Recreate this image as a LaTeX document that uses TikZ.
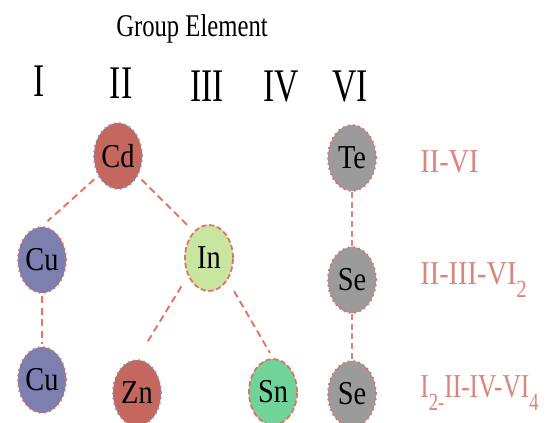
\documentclass[tikz,border=0pt]{standalone}
\usepackage{fontspec}
\setmainfont{Liberation Serif}
\newfontfamily\hdfont[FakeStretch=0.78]{Liberation Serif}
\newfontfamily\numfont[FakeStretch=0.72]{Liberation Serif}
\newfontfamily\elfont[FakeStretch=0.85]{Liberation Serif}
\newfontfamily\narfont[FakeStretch=0.76]{Liberation Serif}
\usetikzlibrary{arrows.meta,positioning,shapes.geometric}
\definecolor{cdred}{HTML}{C4675F}
\definecolor{cublue}{HTML}{7B80AE}
\definecolor{ingreen}{HTML}{C8E6A0}
\definecolor{sngreen}{HTML}{6FD39A}
\definecolor{segray}{HTML}{9B9B9B}
\definecolor{linkred}{HTML}{E8735E}
\definecolor{labred}{HTML}{D9857C}
\definecolor{dotblue}{HTML}{8496B8}
\definecolor{dotred}{HTML}{E36F5E}
\newcommand{\lowidx}[1]{\raisebox{-7pt}{\fontsize{14}{14}\selectfont #1}}
\tikzset{el/.style={ellipse,minimum width=0.96cm,minimum height=1.32cm,inner sep=0pt,line width=1pt,font=\elfont\fontsize{19}{19}\selectfont},
 ebl/.style={el,draw=dotblue,dotted},
 erd/.style={el,draw=dotred,dotted},
 edsh/.style={el,draw=dotred,dash pattern=on 3pt off 1.5pt},
 link/.style={draw=linkred,line width=1.1pt,dash pattern=on 4pt off 2.5pt},
 vlink/.style={draw=labred,line width=0.8pt,dash pattern=on 3.5pt off 2pt},
 grp/.style={anchor=base,font=\numfont\fontsize{26.6}{26.6}\selectfont},
 lab/.style={anchor=base west,inner sep=0pt,text=labred,font=\elfont\fontsize{19}{19}\selectfont}}
\begin{document}
\begin{tikzpicture}
\useasboundingbox (0,0) rectangle (10.94,8.46);
% headings
\node[anchor=base,font=\hdfont\fontsize{18}{18}\selectfont] (title) at (3.84,7.72) {Group Element};
\node[grp] (gI) at (0.78,6.52) {I};
\node[grp] (gII) at (2.42,6.48) {II};
\node[grp] (gIII) at (4.14,6.42) {III};
\node[grp] (gIV) at (5.62,6.42) {IV};
\node[grp] (gVI) at (7.0,6.42) {VI};
% elements
\node[ebl,fill=cdred] (cd) at (2.36,5.34) {Cd};
\node[erd,fill=cublue] (cua) at (0.84,3.26) {Cu};
\node[edsh,fill=ingreen] (in) at (4.18,3.30) {In};
\node[erd,fill=cublue] (cub) at (0.84,0.86) {Cu};
\node[ebl,fill=cdred] (zn) at (2.74,0.60) {Zn};
\node[edsh,fill=sngreen] (sn) at (5.46,0.62) {Sn};
\node[erd,fill=segray] (te) at (7.04,5.30) {Te};
\node[erd,fill=segray] (sea) at (7.04,2.86) {Se};
\node[erd,fill=segray] (seb) at (7.04,0.58) {Se};
% links
\draw[link,shorten <=1mm,shorten >=1.5mm] (cd.225) -- (cua.north);
\draw[link,shorten <=1mm,shorten >=1mm] (cd.-45) -- (in.120);
\draw[link,shorten <=0.5mm,shorten >=0.5mm] (cua) -- (cub);
\draw[link,shorten <=2.5mm,shorten >=3.5mm] (in.220) -- (zn.north);
\draw[link,shorten <=2.5mm,shorten >=1.2mm] (in.-50) -- (sn.north);
\draw[vlink] (te) -- (sea);
\draw[vlink] (sea) -- (seb);
% compound types
\node[lab] (t1) at (8.4,5.0) {II-VI};
\node[lab] (t2) at (8.4,2.76) {II-III-VI\lowidx{2}};
\node[lab,font=\narfont\fontsize{19}{19}\selectfont] (t3) at (8.4,0.50) {I\lowidx{2-}II-IV-VI\lowidx{4}};
\end{tikzpicture}
\end{document}
